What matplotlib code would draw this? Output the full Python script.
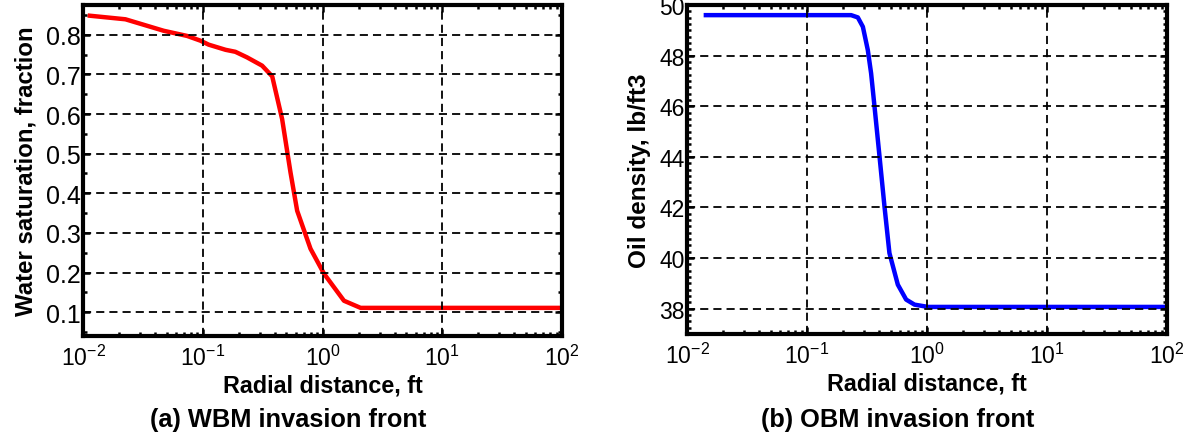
import matplotlib
matplotlib.use("Agg")
import matplotlib.pyplot as plt
from matplotlib.ticker import MultipleLocator, LogLocator, NullFormatter
import numpy as np

plt.rcParams['font.family'] = ['Liberation Sans', 'DejaVu Sans']
plt.rcParams['mathtext.fontset'] = 'custom'
plt.rcParams['mathtext.rm'] = 'Liberation Sans'
plt.rcParams['mathtext.it'] = 'Liberation Sans'
plt.rcParams['mathtext.bf'] = 'Liberation Sans:bold'

# ---- data: WBM invasion front ----
wbm_r = [0.0114, 0.0226, 0.0472, 0.074, 0.0957, 0.112, 0.155, 0.187, 0.234, 0.313,
         0.380, 0.460, 0.540, 0.614, 0.794, 1.03, 1.51, 2.08, 100.0]
wbm_sw = [0.848, 0.839, 0.810, 0.797, 0.785, 0.775, 0.762, 0.757, 0.743, 0.722,
          0.695, 0.587, 0.453, 0.356, 0.260, 0.197, 0.129, 0.111, 0.111]

# ---- data: OBM invasion front ----
obm_r = [0.01435, 0.233, 0.265, 0.292, 0.321, 0.342, 0.365, 0.402, 0.442, 0.486,
         0.571, 0.670, 0.787, 1.02, 100.0]
obm_rho = [49.6, 49.6, 49.51, 49.14, 48.22, 47.30, 45.99, 44.01, 42.04, 40.20,
           38.95, 38.36, 38.16, 38.07, 38.07]

xticks = [1e-2, 1e-1, 1e0, 1e1, 1e2]
xticklabels = [r'$10^{-2}$', r'$10^{-1}$', r'$10^{0}$', r'$10^{1}$', r'$10^{2}$']
wbm_yticks = [0.1, 0.2, 0.3, 0.4, 0.5, 0.6, 0.7, 0.8]
obm_yticks = [38, 40, 42, 44, 46, 48, 50]

fig = plt.figure(figsize=(11.93, 4.39), dpi=100)
ax1 = fig.add_axes([0.0696, 0.2323, 0.4015, 0.754])
ax2 = fig.add_axes([0.5759, 0.2369, 0.4023, 0.7494])

def style(ax, yticks, yminor, ylab_size):
    ax.set_xscale('log')
    ax.set_xlim(1e-2, 1e2)
    ax.set_xticks(xticks)
    ax.set_xticklabels(xticklabels)
    ax.xaxis.set_minor_locator(LogLocator(base=10, subs=np.arange(2, 10)))
    ax.xaxis.set_minor_formatter(NullFormatter())
    ax.set_yticks(yticks)
    ax.yaxis.set_minor_locator(MultipleLocator(yminor))
    ax.grid(True, which='major', color='black', linestyle=(0, (4.5, 2.8)), linewidth=1.3)
    for s in ax.spines.values():
        s.set_linewidth(3.0)
    ax.tick_params(which='both', direction='in', top=True, right=True,
                   width=1.8, color='black')
    ax.tick_params(which='major', length=5)
    ax.tick_params(which='minor', length=3)
    ax.tick_params(axis='x', which='major', labelsize=16.5, pad=6)
    ax.tick_params(axis='y', which='major', labelsize=ylab_size, pad=1.5)
    ax.set_axisbelow(False)

ax1.plot(wbm_r, wbm_sw, color='#ff0000', linewidth=3.2, solid_joinstyle='round')
style(ax1, wbm_yticks, 0.05, 18)
ax1.set_ylim(0.04, 0.875)
ax1.set_ylabel('Water saturation, fraction', fontsize=17.3, fontweight='bold', labelpad=6)
ax1.set_xlabel('Radial distance, ft', fontsize=16.8, fontweight='bold', labelpad=3)

ax2.plot(obm_r, obm_rho, color='#0000ff', linewidth=3.2, solid_joinstyle='round')
style(ax2, obm_yticks, 0.25, 16.5)
ax2.set_ylim(37, 50)
ax2.set_ylabel('Oil density, lb/ft3', fontsize=17.5, fontweight='bold', labelpad=6)
ax2.set_xlabel('Radial distance, ft', fontsize=16.8, fontweight='bold', labelpad=3)

fig.text(0.2414, 0.043, '(a) WBM invasion front', ha='center', va='center',
         fontsize=18.3, fontweight='bold')
fig.text(0.7527, 0.043, '(b) OBM invasion front', ha='center', va='center',
         fontsize=18.3, fontweight='bold')

fig.savefig('out.png', dpi=100)
